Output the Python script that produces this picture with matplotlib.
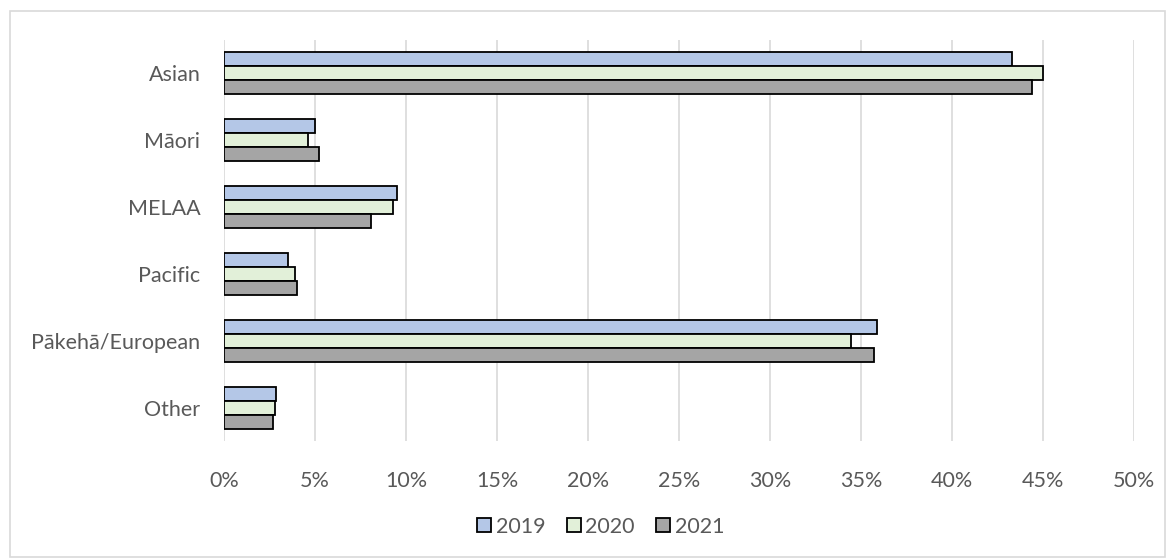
import matplotlib
matplotlib.use("Agg")
import matplotlib.pyplot as plt
import numpy as np
from matplotlib.patches import Patch, Rectangle

# categories top to bottom, values in percent
categories = ["Asian", "Māori", "MELAA", "Pacific", "Pākehā/European", "Other"]
years = ["2019", "2020", "2021"]
vals_2019 = [43.3, 5.0, 9.5, 3.5, 35.9, 2.85]
vals_2020 = [45.0, 4.6, 9.3, 3.9, 34.45, 2.8]
vals_2021 = [44.4, 5.2, 8.1, 4.0, 35.7, 2.7]
x_ticks = [0, 5, 10, 15, 20, 25, 30, 35, 40, 45, 50]

colors = ["#B4C7E7", "#E2F0D9", "#A5A5A5"]
text_color = "#595959"

plt.rcParams["font.family"] = ["Lato", "DejaVu Sans"]

fig = plt.figure(figsize=(11.71, 5.58), dpi=100)
ax = fig.add_axes([0.1913, 0.2088, 0.7771, 0.7204])

y = np.arange(len(categories))
h = 0.209
for i, (vals, c, yr) in enumerate(zip([vals_2019, vals_2020, vals_2021], colors, years)):
    ax.barh(y + (i - 1) * h, vals, height=h, color=c, edgecolor="black",
            linewidth=1.3, label=yr, zorder=3)

ax.set_ylim(len(categories) - 0.5, -0.5)
ax.set_xlim(0, 50)
ax.set_yticks(y)
ax.set_yticklabels(categories)
ax.set_xticks(x_ticks)
ax.set_xticklabels([f"{t}%" for t in x_ticks])
ax.tick_params(axis="both", length=0, labelsize=15.5, colors=text_color)
ax.tick_params(axis="x", pad=21)
ax.tick_params(axis="y", pad=17)
ax.grid(axis="x", color="#D9D9D9", linewidth=1.2, zorder=0)
for s in ax.spines.values():
    s.set_visible(False)

handles = [Patch(facecolor=c, edgecolor="black", linewidth=1.3, label=yr)
           for c, yr in zip(colors, years)]
fig.legend(handles=handles, loc="center", bbox_to_anchor=(0.513, 0.056), ncol=3,
           frameon=False, fontsize=15.5, labelcolor=text_color,
           handlelength=0.65, handleheight=0.65, handletextpad=0.2, columnspacing=1.0)

# outer chart border
fig.patches.append(Rectangle((10 / 1171, 1 / 558), 1155 / 1171, 546 / 558,
                             transform=fig.transFigure, fill=False,
                             edgecolor="#D9D9D9", linewidth=1.2))

fig.savefig("out.png", dpi=100)
